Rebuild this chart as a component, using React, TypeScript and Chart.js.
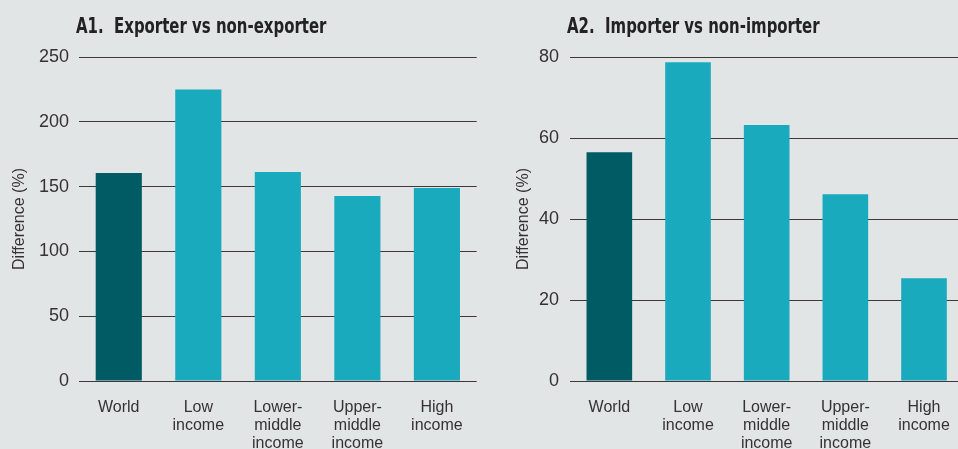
import React, { useEffect, useRef } from "react";
import { Chart, registerables } from "chart.js";

Chart.register(...registerables);

const categories: string[][] = [
  ["World"],
  ["Low", "income"],
  ["Lower-", "middle", "income"],
  ["Upper-", "middle", "income"],
  ["High", "income"],
];
const exporterValues = [160.4, 225.0, 161.2, 142.7, 148.9];
const importerValues = [56.5, 78.7, 63.2, 46.1, 25.4];
const exporterMax = 250;
const exporterStep = 50;
const importerMax = 80;
const importerStep = 20;
const titleA1 = "A1.\u00a0\u00a0Exporter vs non-exporter";
const titleA2 = "A2.\u00a0\u00a0Importer vs non-importer";
const yAxisTitle = "Difference (%)";

const BG = "#e1e5e6";
const DARK = "#005b65";
const LIGHT = "#19aabd";
const TEXT = "#333333";
const GRID = "#3a3a3a";
const FONT = '"Liberation Sans", Arial, sans-serif';
const TITLE_FONT = '"Liberation Sans Narrow", "DejaVu Sans Condensed", "Liberation Sans", sans-serif';

type PanelProps = {
  values: number[];
  max: number;
  step: number;
  width: number;
  axisWidth: number;
  tickPad: number;
  titlePad: number;
  rightPad: number;
};

function Panel({ values, max, step, width, axisWidth, tickPad, titlePad, rightPad }: PanelProps) {
  const ref = useRef<HTMLCanvasElement | null>(null);
  useEffect(() => {
    if (!ref.current) return;
    const colors = values.map((_, i) => (i === 0 ? DARK : LIGHT));
    const chart = new Chart(ref.current, {
      type: "bar",
      data: {
        labels: categories,
        datasets: [
          {
            data: values,
            backgroundColor: colors,
            borderWidth: 0,
            categoryPercentage: 1,
            barPercentage: 0.58,
          },
        ],
      },
      options: {
        animation: false,
        responsive: false,
        maintainAspectRatio: false,
        layout: { padding: { top: 57, right: rightPad, left: 0, bottom: 0 } },
        plugins: {
          legend: { display: false },
          tooltip: { enabled: false },
          title: { display: false },
        },
        scales: {
          x: {
            grid: { display: false, drawTicks: false },
            border: { display: false },
            ticks: {
              color: TEXT,
              font: { family: FONT, size: 16, lineHeight: 1.14 },
              padding: 17,
              maxRotation: 0,
              autoSkip: false,
            },
            afterFit: (s: any) => {
              s.height = 68;
            },
          },
          y: {
            min: 0,
            max: max,
            ticks: {
              stepSize: step,
              color: TEXT,
              font: { family: FONT, size: 18 },
              padding: tickPad,
            },
            grid: { color: GRID, lineWidth: 1, drawTicks: false },
            border: { display: false },
            title: {
              display: true,
              text: yAxisTitle,
              color: TEXT,
              font: { family: FONT, size: 16 },
              padding: { top: titlePad, bottom: 0 },
            },
            afterFit: (s: any) => {
              s.width = axisWidth;
            },
          },
        },
      } as any,
    });
    return () => chart.destroy();
  }, []);
  return <canvas ref={ref} width={width} height={449} style={{ display: "block", width, height: 449 }} />;
}

export default function App() {
  const titleStyle: React.CSSProperties = {
    position: "absolute",
    top: 15,
    fontFamily: TITLE_FONT,
    fontWeight: "bold",
    fontSize: 22,
    lineHeight: "22px",
    color: "#222222",
    whiteSpace: "nowrap",
    transform: "scaleX(0.755)",
    transformOrigin: "0 0",
  };
  return (
    <div
      style={{
        position: "absolute",
        left: 0,
        top: 0,
        width: 958,
        height: 449,
        overflow: "hidden",
        background: BG,
      }}
    >
      <div style={{ position: "absolute", left: 0, top: 0 }}>
        <Panel values={exporterValues} max={exporterMax} step={exporterStep} width={480} axisWidth={79} tickPad={10} titlePad={10} rightPad={3} />
      </div>
      <div style={{ position: "absolute", left: 480, top: 0 }}>
        <Panel values={importerValues} max={importerMax} step={importerStep} width={487} axisWidth={90} tickPad={11} titlePad={34} rightPad={2} />
      </div>
      <div style={{ ...titleStyle, left: 76 }}>{titleA1}</div>
      <div style={{ ...titleStyle, left: 567 }}>{titleA2}</div>
    </div>
  );
}
